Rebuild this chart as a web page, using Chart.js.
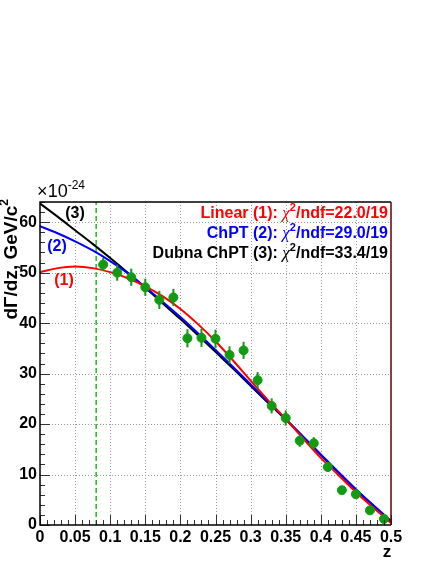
<!DOCTYPE html>
<html>
<head>
<meta charset="utf-8">
<script src="https://cdn.jsdelivr.net/npm/chart.js@4.4.0/dist/chart.umd.min.js"></script>
<style>
body { margin: 0; background: #fff; }
canvas { display: block; }
</style>
</head>
<body>
<canvas id="chart" width="436" height="564"></canvas>
<script>
// measured spectrum (21 bins in z), units of 1e-24 GeV/c^2
const zBins = [0.09, 0.11, 0.13, 0.15, 0.17, 0.19, 0.21, 0.23, 0.25, 0.27, 0.29, 0.31, 0.33, 0.35, 0.37, 0.39, 0.41, 0.43, 0.45, 0.47, 0.49];
const rate = [51.6, 50.0, 49.1, 47.1, 44.6, 45.1, 37.0, 37.1, 36.9, 33.7, 34.6, 28.7, 23.6, 21.2, 16.7, 16.2, 11.5, 6.9, 6.1, 2.9, 1.2];
const rateErr = [1.3, 1.6, 1.7, 1.7, 1.8, 1.7, 1.8, 1.8, 1.8, 1.7, 1.7, 1.6, 1.5, 1.5, 1.2, 1.2, 0.9, 0.7, 0.6, 0.5, 0.4];

const zCurve = [0, 0.025, 0.05, 0.075, 0.1, 0.125, 0.15, 0.175, 0.2, 0.225, 0.25, 0.275, 0.3, 0.325, 0.35, 0.375, 0.4, 0.425, 0.45, 0.475, 0.5];
const linearFit = [50.1, 50.9, 51.2, 50.9, 50.1, 48.9, 47.3, 45.3, 42.8, 39.8, 36.4, 32.6, 28.6, 24.7, 21.0, 17.1, 13.3, 9.9, 6.5, 3.4, 0.4];
const chptFit = [59.2, 57.8, 56.2, 54.4, 52.3, 49.9, 47.1, 44.2, 41.2, 38.0, 34.7, 31.3, 27.9, 24.4, 21.0, 17.5, 14.0, 10.5, 7.1, 3.9, 0.8];
const dubnaFit = [63.7, 61.1, 58.4, 55.7, 52.9, 50.0, 47.0, 43.9, 40.8, 37.6, 34.3, 31.0, 27.6, 24.2, 20.9, 17.4, 13.9, 10.4, 7.0, 3.8, 0.7];

const zCut = 0.08;
const xTicks = [0, 0.05, 0.1, 0.15, 0.2, 0.25, 0.3, 0.35, 0.4, 0.45, 0.5];
const yTicks = [0, 10, 20, 30, 40, 50, 60];
const xMax = 0.5, yMax = 64;

const fitLabels = [
    { name: 'Linear (1): ', chi: '/ndf=22.0/19', color: '#ff0000' },
    { name: 'ChPT (2): ', chi: '/ndf=29.0/19', color: '#0000ff' },
    { name: 'Dubna ChPT (3): ', chi: '/ndf=33.4/19', color: '#000000' }
];

const FONT = '"Liberation Sans", Arial, sans-serif';

function curve(ys) {
    return zCurve.map((z, i) => ({ x: z, y: ys[i] }));
}

// draw a row of text pieces, right aligned at xr
function richText(ctx, parts, xr, y) {
    let w = 0;
    parts.forEach(p => { ctx.font = p.font; w += ctx.measureText(p.text).width; });
    let x = xr - w;
    ctx.textAlign = 'left';
    ctx.textBaseline = 'alphabetic';
    parts.forEach(p => {
        ctx.font = p.font;
        ctx.fillStyle = p.color;
        ctx.fillText(p.text, x, y + (p.dy || 0));
        x += ctx.measureText(p.text).width;
    });
}

const rootStyle = {
    id: 'rootStyle',
    beforeDatasetsDraw(chart) {
        const { ctx, chartArea: a, scales: { x, y } } = chart;
        ctx.save();
        ctx.strokeStyle = '#999';
        ctx.lineWidth = 1;
        ctx.setLineDash([1, 2]);
        xTicks.slice(1, -1).forEach(v => {
            const px = Math.round(x.getPixelForValue(v)) + 0.5;
            ctx.beginPath(); ctx.moveTo(px, a.top); ctx.lineTo(px, a.bottom); ctx.stroke();
        });
        yTicks.slice(1).forEach(v => {
            const py = Math.round(y.getPixelForValue(v)) + 0.5;
            ctx.beginPath(); ctx.moveTo(a.left, py); ctx.lineTo(a.right, py); ctx.stroke();
        });
        ctx.restore();
    },
    beforeDatasetDraw(chart, args) {
        if (args.meta.label !== 'data') return;
        const { ctx, scales: { x, y } } = chart;
        ctx.save();
        ctx.strokeStyle = '#129a12';
        ctx.lineWidth = 2;
        zBins.forEach((z, i) => {
            const px = x.getPixelForValue(z);
            ctx.beginPath();
            ctx.moveTo(px, y.getPixelForValue(rate[i] - rateErr[i]));
            ctx.lineTo(px, y.getPixelForValue(rate[i] + rateErr[i]));
            ctx.stroke();
        });
        ctx.restore();
    },
    afterDraw(chart) {
        const { ctx, chartArea: a, scales: { x, y } } = chart;
        ctx.save();
        // ticks on the bottom and left axes
        ctx.strokeStyle = '#333';
        ctx.lineWidth = 1;
        for (let i = 0; i <= 50; i++) {
            const px = Math.round(x.getPixelForValue(i * 0.01)) + 0.5;
            const len = i % 5 === 0 ? 10 : 5;
            ctx.beginPath(); ctx.moveTo(px, a.bottom); ctx.lineTo(px, a.bottom - len); ctx.stroke();
        }
        for (let v = 0; v <= yMax; v += 2) {
            const py = Math.round(y.getPixelForValue(v)) + 0.5;
            const len = v % 10 === 0 ? 10 : 5;
            ctx.beginPath(); ctx.moveTo(a.left, py); ctx.lineTo(a.left + len, py); ctx.stroke();
        }
        // frame
        ctx.lineWidth = 1.5;
        ctx.strokeStyle = '#000';
        ctx.beginPath();
        ctx.moveTo(a.right, a.top); ctx.lineTo(a.left, a.top);
        ctx.lineTo(a.left, a.bottom); ctx.lineTo(a.right, a.bottom);
        ctx.stroke();
        ctx.strokeStyle = '#600000';
        ctx.beginPath(); ctx.moveTo(a.right, a.top); ctx.lineTo(a.right, a.bottom); ctx.stroke();

        // fit legend
        fitLabels.forEach((f, i) => {
            richText(ctx, [
                { text: f.name, font: 'bold 16px ' + FONT, color: f.color },
                { text: 'χ', font: 'italic 17px "Liberation Serif", serif', color: f.color },
                { text: '2', font: 'bold 11px ' + FONT, color: f.color, dy: -7 },
                { text: f.chi, font: 'bold 16px ' + FONT, color: f.color }
            ], a.right - 3, a.top + 16 + i * 20);
        });

        // curve tags
        ctx.font = 'bold 16px ' + FONT;
        ctx.textAlign = 'center';
        ctx.textBaseline = 'middle';
        ctx.fillStyle = '#000'; ctx.fillText('(3)', a.left + 35, a.top + 12);
        ctx.fillStyle = '#0000ff'; ctx.fillText('(2)', a.left + 17, a.top + 45);
        ctx.fillStyle = '#ff0000'; ctx.fillText('(1)', a.left + 24, a.top + 79);

        // exponent above the y axis
        richText(ctx, [
            { text: '×10', font: '18px ' + FONT, color: '#000' },
            { text: '-24', font: '12px ' + FONT, color: '#000', dy: -8 }
        ], a.left + 45, a.top - 5);

        // axis titles
        ctx.fillStyle = '#000';
        ctx.font = 'bold 17px ' + FONT;
        ctx.textAlign = 'center';
        ctx.textBaseline = 'alphabetic';
        ctx.fillText('z', a.right - 4, chart.height - 7);

        ctx.translate(17, a.top - 3);
        ctx.rotate(-Math.PI / 2);
        richText(ctx, [
            { text: 'dΓ/dz, GeV/c', font: 'bold 19px ' + FONT, color: '#000' },
            { text: '2', font: 'bold 12px ' + FONT, color: '#000', dy: -9 }
        ], 0, 0);
        ctx.restore();
    }
};

new Chart(document.getElementById('chart'), {
    type: 'scatter',
    data: {
        datasets: [
            {
                label: 'data',
                data: zBins.map((z, i) => ({ x: z, y: rate[i] })),
                backgroundColor: '#129a12',
                borderColor: '#129a12',
                pointRadius: 4.5,
                order: 0
            },
            {
                label: 'Linear (1)',
                type: 'line',
                data: curve(linearFit),
                borderColor: '#ff0000',
                borderWidth: 2,
                pointRadius: 0,
                cubicInterpolationMode: 'monotone',
                order: 1
            },
            {
                label: 'ChPT (2)',
                type: 'line',
                data: curve(chptFit),
                borderColor: '#0000ff',
                borderWidth: 2,
                pointRadius: 0,
                cubicInterpolationMode: 'monotone',
                order: 2
            },
            {
                label: 'Dubna ChPT (3)',
                type: 'line',
                data: curve(dubnaFit),
                borderColor: '#000000',
                borderWidth: 2,
                pointRadius: 0,
                cubicInterpolationMode: 'monotone',
                order: 3
            },
            {
                label: 'cut',
                type: 'line',
                data: [{ x: zCut, y: 0 }, { x: zCut, y: yMax }],
                borderColor: '#22bb22',
                borderWidth: 1.5,
                borderDash: [5, 3],
                pointRadius: 0,
                order: 4
            }
        ]
    },
    options: {
        responsive: false,
        animation: false,
        layout: { padding: { left: 0, right: 45, top: 202, bottom: 0 } },
        plugins: { legend: { display: false }, tooltip: { enabled: false } },
        scales: {
            x: {
                type: 'linear',
                min: 0, max: xMax,
                afterBuildTicks: s => { s.ticks = xTicks.map(v => ({ value: v })); },
                afterFit: s => { s.height = 39; },
                grid: { display: false, drawTicks: false },
                border: { display: false },
                ticks: {
                    padding: 3,
                    autoSkip: false,
                    maxRotation: 0,
                    minRotation: 0,
                    color: '#000',
                    font: { family: FONT, size: 16, weight: 'bold' },
                    callback: v => String(+v.toFixed(2))
                }
            },
            y: {
                type: 'linear',
                min: 0, max: yMax,
                afterBuildTicks: s => { s.ticks = yTicks.map(v => ({ value: v })); },
                afterFit: s => { s.width = 40; },
                grid: { display: false, drawTicks: false },
                border: { display: false },
                ticks: {
                    padding: 3,
                    autoSkip: false,
                    color: '#000',
                    font: { family: FONT, size: 16, weight: 'bold' }
                }
            }
        }
    },
    plugins: [rootStyle]
});
</script>
</body>
</html>
